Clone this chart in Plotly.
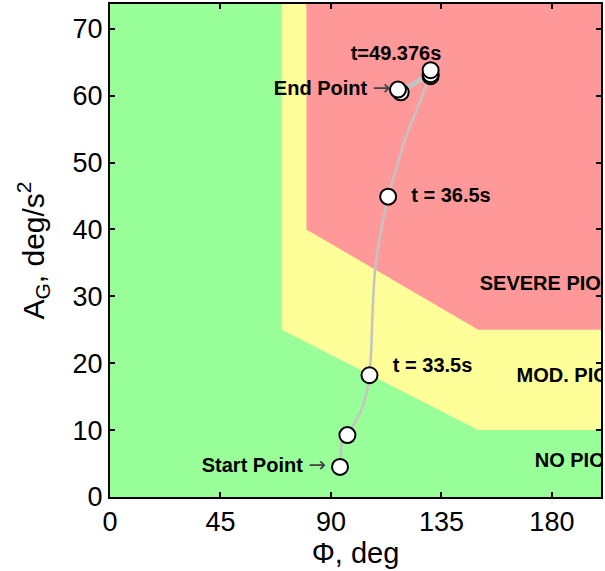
import plotly.graph_objects as go

# --- region boundaries (Phi, deg ; A_G, deg/s^2) ---
mod_x = [70, 70, 150, 200, 200, 70]
mod_y = [80, 25, 10, 10, 80, 80]
sev_x = [80, 80, 150, 200, 200, 80]
sev_y = [80, 40, 25, 25, 80, 80]

# --- trajectory ---
traj_phi = [93.7, 94.0, 94.4, 96.7, 99.5, 102.5, 104.5, 105.7, 106.4, 106.9, 107.4, 108.0,
            109.1, 110.5, 113.3, 116.0, 120.1, 125.5, 129.5, 130.6]
traj_ag = [4.5, 6.0, 8.1, 9.25, 11.0, 13.1, 15.5, 18.2, 22.0, 27.0, 31.0, 34.0,
           37.0, 40.0, 44.9, 48.4, 53.4, 58.4, 62.3, 63.8]
back_phi = [130.6, 118.4, 130.6, 117.3]
back_ag = [63.8, 60.5, 63.0, 60.9]

# --- marked points ---
mk_phi = [93.7, 96.7, 105.7, 113.3, 130.6, 130.6, 130.6, 118.4, 117.3]
mk_ag = [4.5, 9.25, 18.2, 44.9, 62.9, 63.2, 63.8, 60.5, 60.9]

# --- labels ---
ARROW = (" <span style='font-family:DejaVu Sans;font-weight:normal;"
         "font-size:21px;color:#444444'>\u2192</span>")
lab_left_txt = ["t = 36.5s", "t = 33.5s"]
lab_left_x = [122.7, 115.2]
lab_left_y = [44.9, 19.4]
lab_right_txt = ["End Point" + ARROW, "Start Point" + ARROW]
lab_right_x = [114.2, 88.0]
lab_right_y = [60.9, 4.5]
lab_top_txt = ["t=49.376s"]
lab_top_x = [116.5]
lab_top_y = [66.1]
reg_txt = ["SEVERE PIO", "MOD. PIO", "NO PIO"]
reg_x = [150.6, 165.6, 173.0]
reg_y = [31.7, 17.9, 5.3]

GREEN = "#99FF99"
YELLOW = "#FFFF99"
RED = "#FF9999"
FONT = "Liberation Sans, Arial, Helvetica, sans-serif"
bold = dict(family=FONT, size=20, color="black", weight="bold")

fig = go.Figure()
fig.add_trace(go.Scatter(x=mod_x, y=mod_y, fill="toself", fillcolor=YELLOW,
                         mode="lines", line=dict(width=0), hoverinfo="skip"))
fig.add_trace(go.Scatter(x=sev_x, y=sev_y, fill="toself", fillcolor=RED,
                         mode="lines", line=dict(width=0), hoverinfo="skip"))
fig.add_trace(go.Scatter(x=traj_phi, y=traj_ag, mode="lines",
                         line=dict(color="#C4C4C4", width=2.5, shape="spline", smoothing=0.8)))
fig.add_trace(go.Scatter(x=back_phi, y=back_ag, mode="lines",
                         line=dict(color="#C4C4C4", width=2.5)))
fig.add_trace(go.Scatter(x=mk_phi, y=mk_ag, mode="markers",
                         marker=dict(size=16, color="white", line=dict(color="black", width=2))))
fig.add_trace(go.Scatter(x=lab_left_x, y=lab_left_y, text=lab_left_txt, mode="text",
                         textposition="middle right", textfont=bold))
fig.add_trace(go.Scatter(x=lab_right_x, y=lab_right_y, text=lab_right_txt, mode="text",
                         textposition="middle left", textfont=bold))
fig.add_trace(go.Scatter(x=lab_top_x, y=lab_top_y, text=lab_top_txt, mode="text",
                         textposition="middle center", textfont=bold))
fig.add_trace(go.Scatter(x=reg_x, y=reg_y, text=reg_txt, mode="text",
                         textposition="middle right", textfont=bold, cliponaxis=True))

axis_common = dict(showgrid=False, zeroline=False, ticks="inside", ticklen=5,
                   tickwidth=1.5, tickcolor="black", linecolor="black", linewidth=2,
                   mirror="ticks", showline=True,
                   tickfont=dict(family=FONT, size=27, color="black"))
fig.update_layout(
    width=605, height=571,
    margin=dict(l=110, r=2, t=4, b=74),
    plot_bgcolor=GREEN, paper_bgcolor="white",
    showlegend=False,
    xaxis=dict(range=[0, 200], tickvals=[0, 45, 90, 135, 180],
               title=dict(text="\u03a6, deg", font=dict(family=FONT, size=29, color="black"), standoff=0),
               **axis_common),
    yaxis=dict(range=[0, 73.7], tickvals=[0, 10, 20, 30, 40, 50, 60, 70],
               title=dict(text="A<sub>G</sub>, deg/s<sup>2</sup>", font=dict(family=FONT, size=30, color="black"), standoff=19),
               **axis_common),
)
fig.write_html("out.html")
